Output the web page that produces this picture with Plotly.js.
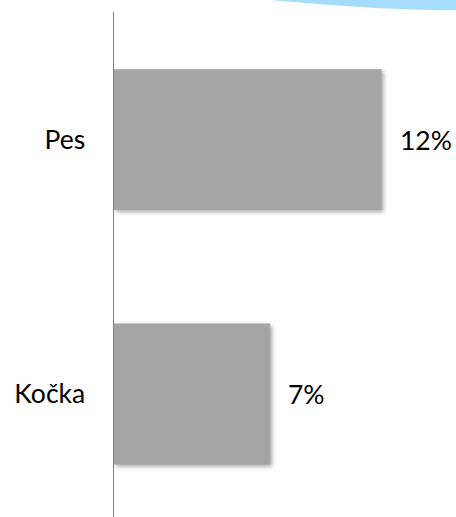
<!DOCTYPE html>
<html>
<head>
<meta charset="utf-8">
<script src="https://cdn.plot.ly/plotly-3.0.1.min.js"></script>
<style>
html,body{margin:0;padding:0;background:#fff;}
#chart{width:456px;height:517px;}
.bars .point path{filter:drop-shadow(2px 2px 2px rgba(0,0,0,0.35));}
</style>
</head>
<body>
<div id="chart"></div>
<script>
// Data
const categories = ['Kočka', 'Pes'];
const values = [0.07, 0.12];
const valueLabels = values.map(v => Math.round(v * 100) + '%');

const FONT = 'Lato, "Open Sans", sans-serif';

const trace = {
  type: 'bar',
  orientation: 'h',
  y: categories,
  x: values,
  marker: {color: '#a5a5a5', line: {width: 0}},
  hoverinfo: 'skip'
};

const annotations = categories.map((c, i) => ({
  x: values[i], y: c, xref: 'x', yref: 'y',
  text: valueLabels[i], showarrow: false,
  xanchor: 'left', yanchor: 'middle', xshift: 16, yshift: 0,
  font: {family: FONT, size: 26.5, color: '#000'}
}));

const layout = {
  width: 456, height: 517,
  margin: {l: 114, r: 0, t: 12, b: 0},
  paper_bgcolor: '#fff', plot_bgcolor: '#fff',
  showlegend: false,
  bargap: 0.446,
  xaxis: {visible: false, range: [0, 0.1534], fixedrange: true},
  yaxis: {
    type: 'category',
    range: [-0.4835, 1.5016],
    showline: true, linecolor: '#808080', linewidth: 1.5,
    showgrid: false, zeroline: false, ticks: '',
    ticklabelstandoff: 22,
    tickfont: {family: FONT, size: 26.5, color: '#000'},
    fixedrange: true
  },
  annotations: annotations,
  shapes: [{
    type: 'path', xref: 'paper', yref: 'paper', layer: 'above',
    path: 'M 0.4577,1.0238 L 0.5452,1.0188 L 0.6327,1.0139 L 0.7784,1.0073 L 0.8950,1.0044 L 1.0,1.0034 L 1.0,1.0238 Z',
    fillcolor: '#a6dcfb', line: {width: 0}
  }]
};

Plotly.newPlot('chart', [trace], layout, {displayModeBar: false, staticPlot: true});
</script>
</body>
</html>
